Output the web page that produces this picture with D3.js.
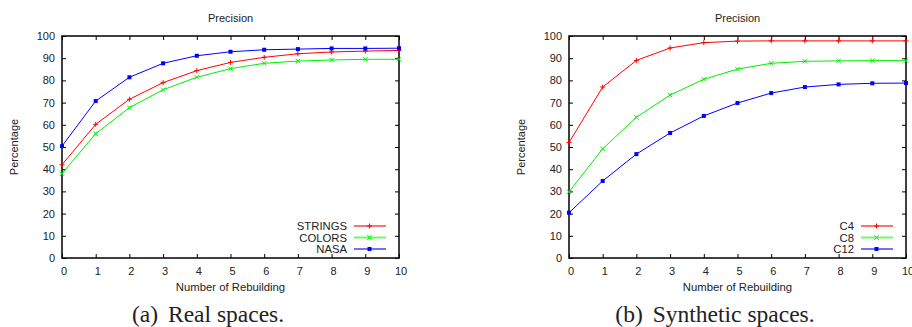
<!DOCTYPE html>
<html>
<head>
<meta charset="utf-8">
<script src="https://cdn.jsdelivr.net/npm/d3@7"></script>
<style>
  body { margin: 0; background: #fff; }
  svg { display: block; }
</style>
</head>
<body>
<div id="chart-area"></div>
<script>
// data
var rebuilds = [0, 1, 2, 3, 4, 5, 6, 7, 8, 9, 10];
var yTicks = [0, 10, 20, 30, 40, 50, 60, 70, 80, 90, 100];

var realNames = ["STRINGS", "COLORS", "NASA"];
var stringsVals = [42, 60.2, 71.5, 79, 84.4, 88.1, 90.4, 92, 92.8, 93.2, 93.5];
var colorsVals = [38, 56, 67.7, 75.8, 81.4, 85.3, 87.7, 88.7, 89.2, 89.5, 89.5];
var nasaVals = [50.4, 70.7, 81.4, 87.7, 91.1, 92.9, 93.8, 94.1, 94.4, 94.4, 94.5];

var synthNames = ["C4", "C8", "C12"];
var c4Vals = [52, 77, 89, 94.6, 97, 97.7, 97.8, 97.8, 97.8, 97.8, 97.8];
var c8Vals = [29.8, 49.2, 63.4, 73.4, 80.5, 85.1, 87.7, 88.6, 88.8, 88.9, 88.9];
var c12Vals = [20.4, 34.7, 46.8, 56.3, 64, 69.8, 74.3, 77, 78.2, 78.7, 78.8];

var seriesColors = ["#ff0000", "#00ee00", "#0000ff"];
var markers = ["plus", "cross", "square"];

var svg = d3.select("#chart-area")
	.append("svg")
		.attr("width", 912)
		.attr("height", 327);

var panels = [
	{left: 62, right: 399, names: realNames, values: [stringsVals, colorsVals, nasaVals],
	 legendX: 347, caption: ["(a)", "Real spaces."], capX: 208},
	{left: 569, right: 906, names: synthNames, values: [c4Vals, c8Vals, c12Vals],
	 legendX: 854, caption: ["(b)", "Synthetic spaces."], capX: 715}
];

var plotTop = 36, plotBottom = 258;

function drawMarker(sel, type, color) {
	if (type == "plus") {
		sel.append("path").attr("d", "M-2.5,0H2.5M0,-2.5V2.5")
			.attr("stroke", color).attr("stroke-width", 1).attr("fill", "none");
	} else if (type == "cross") {
		sel.append("path").attr("d", "M-2.2,-2.2L2.2,2.2M-2.2,2.2L2.2,-2.2")
			.attr("stroke", color).attr("stroke-width", 1).attr("fill", "none");
	} else {
		sel.append("rect").attr("x", -2).attr("y", -2).attr("width", 4).attr("height", 4)
			.attr("fill", color);
	}
}

panels.forEach(function(p){
	var xScale = d3.scaleLinear().domain([0, 10]).range([p.left, p.right]);
	var yScale = d3.scaleLinear().domain([0, 100]).range([plotBottom, plotTop]);
	var g = svg.append("g");

	//ticks inside the box, on all four sides
	g.append("g")
		.attr("transform", "translate(0," + plotBottom + ")")
		.call(d3.axisBottom(xScale).tickValues(rebuilds).tickSizeInner(-4).tickSizeOuter(0).tickPadding(9))
		.call(function(a){ a.select(".domain").remove(); a.selectAll("text").attr("dx", 1.5); });
	g.append("g")
		.attr("transform", "translate(0," + plotTop + ")")
		.call(d3.axisTop(xScale).tickValues(rebuilds).tickSizeInner(-4).tickSizeOuter(0).tickFormat(""))
		.call(function(a){ a.select(".domain").remove(); });
	g.append("g")
		.attr("transform", "translate(" + p.left + ",0)")
		.call(d3.axisLeft(yScale).tickValues(yTicks).tickSizeInner(-4).tickSizeOuter(0).tickPadding(7))
		.call(function(a){ a.select(".domain").remove(); });
	g.append("g")
		.attr("transform", "translate(" + p.right + ",0)")
		.call(d3.axisRight(yScale).tickValues(yTicks).tickSizeInner(-4).tickSizeOuter(0).tickFormat(""))
		.call(function(a){ a.select(".domain").remove(); });

	g.selectAll(".tick text")
		.attr("font-family", "Liberation Sans, Arial, sans-serif")
		.attr("font-size", "11px")
		.attr("fill", "#222");

	// frame
	g.append("rect")
		.attr("x", p.left).attr("y", plotTop)
		.attr("width", p.right - p.left).attr("height", plotBottom - plotTop)
		.attr("fill", "none").attr("stroke", "#000").attr("stroke-width", 1.5);

	//labels
	g.append("text")
		.attr("x", (p.left + p.right) / 2).attr("y", 22)
		.attr("text-anchor", "middle")
		.attr("font-family", "Liberation Sans, Arial, sans-serif")
		.attr("font-size", "11px").attr("fill", "#222")
		.text("Precision");
	g.append("text")
		.attr("x", (p.left + p.right) / 2).attr("y", 291)
		.attr("text-anchor", "middle")
		.attr("font-family", "Liberation Sans, Arial, sans-serif")
		.attr("font-size", "11.3px").attr("fill", "#222")
		.text("Number of Rebuilding");
	g.append("text")
		.attr("transform", "translate(" + (p.left - 44) + "," + ((plotTop + plotBottom) / 2) + ") rotate(-90)")
		.attr("text-anchor", "middle")
		.attr("font-family", "Liberation Sans, Arial, sans-serif")
		.attr("font-size", "11px").attr("fill", "#222")
		.text("Percentage");

	var line = d3.line()
		.x(function(d, i){ return xScale(rebuilds[i]); })
		.y(function(d){ return yScale(d); });

	p.values.forEach(function(vals, s){
		g.append("path")
			.attr("d", line(vals))
			.attr("fill", "none")
			.attr("stroke", seriesColors[s])
			.attr("stroke-width", 1);
		vals.forEach(function(v, i){
			var m = g.append("g")
				.attr("transform", "translate(" + xScale(rebuilds[i]) + "," + yScale(v) + ")");
			drawMarker(m, markers[s], seriesColors[s]);
		});
	});

	//legend section
	var legend = g.append("g");
	p.names.forEach(function(name, i){
		var y = 226 + i * 11.5;
		legend.append("text")
			.attr("x", p.legendX).attr("y", y + 4)
			.attr("text-anchor", "end")
			.attr("font-family", "Liberation Sans, Arial, sans-serif")
			.attr("font-size", "11.3px").attr("fill", "#222")
			.text(name);
		legend.append("line")
			.attr("x1", p.legendX + 7).attr("x2", p.legendX + 39)
			.attr("y1", y).attr("y2", y)
			.attr("stroke", seriesColors[i])
			.attr("stroke-width", 2)
			.attr("opacity", 0.55);
		var m = legend.append("g")
			.attr("transform", "translate(" + (p.legendX + 22.5) + "," + y + ")");
		drawMarker(m, markers[i], seriesColors[i]);
	});

	// caption
	var cap = svg.append("text")
		.attr("x", p.capX).attr("y", 322)
		.attr("text-anchor", "middle")
		.attr("font-family", "Liberation Serif, Times New Roman, serif")
		.attr("font-size", "23.5px").attr("fill", "#222");
	cap.append("tspan").text(p.caption[0]);
	cap.append("tspan").attr("dx", 10).text(p.caption[1]);
});
</script>
</body>
</html>
